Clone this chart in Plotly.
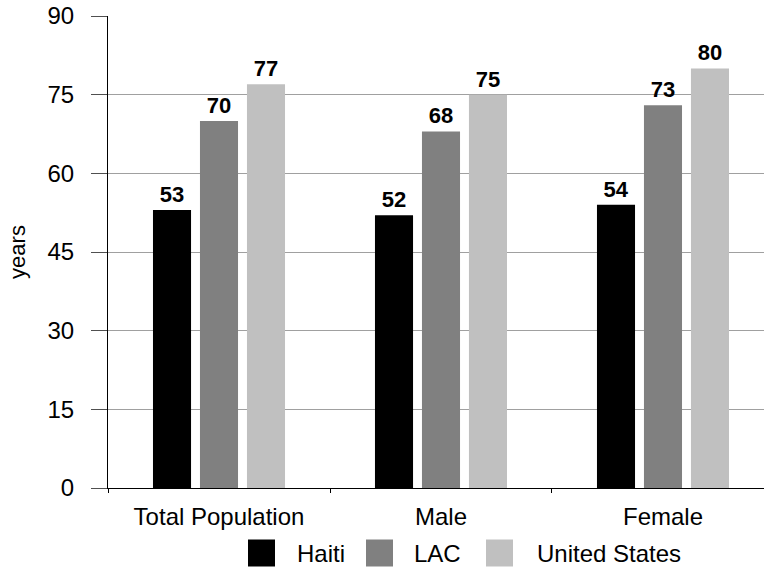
import plotly.graph_objects as go

categories = ["Total Population", "Male", "Female"]
series_names = ["Haiti", "LAC", "United States"]
haiti = [53, 52, 54]
lac = [70, 68, 73]
us = [77, 75, 80]
y_ticks = [0, 15, 30, 45, 60, 75, 90]

series_values = [haiti, lac, us]
colors = ["#000000", "#808080", "#c0c0c0"]

FONT = "Liberation Sans, Arial, sans-serif"
W, H = 764, 571
ML, MT, MB = 108, 16, 83
plot_w = W - ML
plot_h = H - MT - MB

fig = go.Figure()
for name, vals, col in zip(series_names, series_values, colors):
    fig.add_trace(go.Bar(
        x=categories, y=vals, name=name, marker=dict(color=col, line=dict(width=0)),
        text=vals, texttemplate="<b>%{text}</b>", textposition="outside",
        textfont=dict(family=FONT, size=22, color="#000000"),
        cliponaxis=False, showlegend=False,
    ))

# custom legend (large square swatches)
legend_px = [(248, 295), (366, 412), (486, 535)]  # square left, text left
sq = 27
cy = 553
shapes = []
annotations = []
for (sx, tx), name, col in zip(legend_px, series_names, colors):
    shapes.append(dict(type="rect", xref="paper", yref="paper",
                       x0=(sx - ML) / plot_w, x1=(sx + sq - ML) / plot_w,
                       y0=(MT + plot_h - (cy - sq / 2)) / plot_h,
                       y1=(MT + plot_h - (cy + sq / 2)) / plot_h,
                       fillcolor=col, line=dict(width=0)))
    annotations.append(dict(xref="paper", yref="paper", x=(tx - ML) / plot_w,
                            y=(MT + plot_h - cy) / plot_h, text=name, showarrow=False,
                            xanchor="left", yanchor="middle",
                            font=dict(family=FONT, size=24, color="#000000")))

fig.update_layout(
    width=W, height=H,
    margin=dict(l=ML, r=0, t=MT, b=MB),
    paper_bgcolor="white", plot_bgcolor="white",
    barmode="group", bargap=0.365, bargroupgap=0.19,
    font=dict(family=FONT, size=22, color="#000000"),
    shapes=shapes, annotations=annotations,
    showlegend=False,
)
fig.update_xaxes(
    type="category", range=[-0.5, 2.455],
    showline=True, linecolor="#000000", linewidth=1,
    ticks="outside", tickson="boundaries", ticklen=4, tickcolor="#000000",
    tickfont=dict(family=FONT, size=24, color="#000000"),
    ticklabelstandoff=7,
    showgrid=False,
)
fig.update_yaxes(
    range=[0, 90], tickvals=y_ticks,
    showline=True, linecolor="#000000", linewidth=1,
    ticks="outside", ticklen=16, tickcolor="#505050",
    tickfont=dict(family=FONT, size=24, color="#000000"),
    ticklabelstandoff=12,
    showgrid=True, gridcolor="#a0a0a0", gridwidth=1,
    zeroline=False,
    title=dict(text="years", font=dict(family=FONT, size=22, color="#000000"), standoff=15),
)

fig.write_html("out.html", config={"displayModeBar": False},
               post_script="document.body.style.margin='0';document.body.style.overflow='hidden';")
